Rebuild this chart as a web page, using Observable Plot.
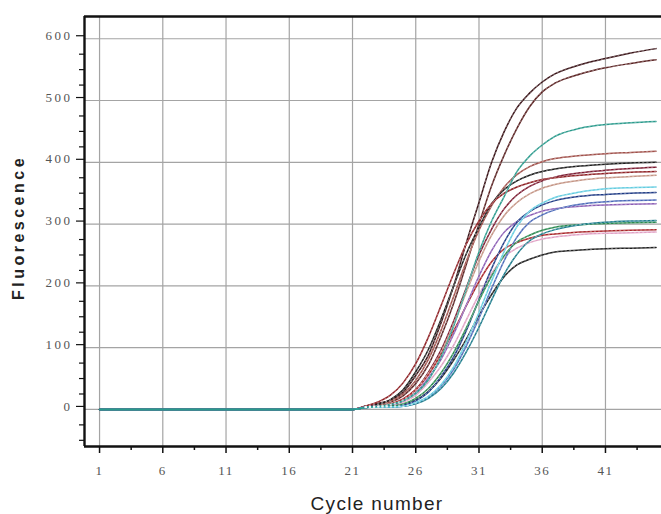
<!DOCTYPE html>
<html><head><meta charset="utf-8">
<script src="https://cdn.jsdelivr.net/npm/d3@7"></script>
<script src="https://cdn.jsdelivr.net/npm/@observablehq/plot@0.6"></script>
<style>body{margin:0;background:#fff} svg{display:block}</style>
</head><body><div id="chart"></div>
<script>
// Cycle numbers at which each amplification curve is read
const cycles = [1, 21, 22, 23, 24, 25, 26, 27, 28, 29, 30, 31, 32, 33, 34, 35, 36, 37, 39, 41, 43, 45];

// Fluorescence readings per well (same order as cycles)
const wellA = [0, 0, 5, 10, 15, 28, 55, 88, 140, 200, 270, 335, 400, 450, 488, 512, 530, 543, 558, 568, 577, 584];
const wellB = [0, 0, 5, 8, 12, 22, 42, 72, 118, 172, 235, 300, 362, 412, 455, 490, 514, 528, 543, 553, 560, 566];
const wellC = [0, 0, 4, 6, 13, 25, 47, 81, 128, 183, 240, 290, 330, 360, 380, 393, 401, 406, 411, 414, 416, 418];
const wellD = [0, 0, 4, 8, 16, 32, 61, 97, 146, 200, 252, 295, 333, 356, 370, 379, 385, 389, 394, 397, 399, 400];
const wellE = [0, 0, 4, 5, 8, 16, 32, 60, 96, 143, 197, 250, 292, 325, 347, 361, 370, 376, 383, 387, 390, 392];
const wellF = [0, 0, 5, 12, 23, 43, 74, 117, 168, 220, 268, 305, 333, 350, 360, 367, 372, 375, 379, 382, 384, 385];
const wellG = [0, 0, 4, 5, 8, 15, 31, 58, 92, 138, 190, 240, 282, 314, 335, 349, 358, 364, 371, 375, 377, 379];
const wellL = [0, 0, 4, 5, 9, 17, 32, 56, 89, 127, 168, 207, 239, 260, 270, 277, 282, 284, 287, 289, 290, 291];
const wellM = [0, 0, 4, 5, 6, 12, 23, 44, 70, 104, 145, 186, 220, 247, 261, 270, 276, 279, 283, 285, 286, 287];
const wellN = [0, 0, 3, 4, 5, 8, 15, 29, 51, 80, 114, 152, 186, 215, 234, 243, 250, 255, 258, 260, 261, 262];
const wellJ = [0, 0, 4, 5, 7, 14, 27, 51, 81, 122, 169, 216, 257, 287, 304, 314, 321, 325, 329, 331, 332, 333];
const wellH = [0, 0, 3, 4, 5, 7, 14, 28, 53, 85, 128, 178, 228, 271, 303, 320, 331, 338, 345, 348, 350, 351];
const wellI = [0, 0, 3, 4, 4, 5, 10, 20, 38, 65, 103, 148, 196, 241, 279, 303, 315, 323, 332, 336, 338, 339];
const wellK = [0, 0, 3, 4, 5, 9, 18, 34, 59, 92, 132, 176, 216, 249, 271, 282, 290, 295, 299, 301, 302, 303];
const wellQ = [0, 0, 3, 4, 4, 5, 9, 18, 34, 59, 93, 133, 177, 219, 251, 273, 284, 291, 299, 303, 305, 306];
const wellO = [0, 0, 3, 4, 4, 5, 11, 21, 40, 69, 110, 157, 208, 256, 296, 321, 334, 343, 352, 357, 359, 360];
const wellT = [0, 0, 3, 5, 8, 14, 26, 48, 85, 135, 195, 255, 305, 345, 385, 410, 428, 442, 455, 461, 464, 466];

const wellNames  = ["A", "B", "C", "D", "E", "F", "G", "L", "M", "N", "J", "H", "I", "K", "Q", "O", "T"];
const wellValues = [wellA, wellB, wellC, wellD, wellE, wellF, wellG, wellL, wellM, wellN, wellJ, wellH, wellI, wellK, wellQ, wellO, wellT];
const wellColors = ["#3a1418", "#5a2222", "#a0504a", "#1c1c1c", "#7a1a30", "#8e2024", "#c49484",
                    "#a82428", "#e0a0c4", "#202020", "#8a5cb4", "#1e3a84", "#4a68b8", "#2a8a50",
                    "#1a7a8a", "#62cce0", "#2a9a8c"];

// Axis ticks
const xTicks = [1, 6, 11, 16, 21, 26, 31, 36, 41];
const xMinorTicks = [3.5, 8.5, 13.5, 18.5, 23.5, 28.5, 33.5, 38.5, 43.5];
const yTicks = [0, 100, 200, 300, 400, 500, 600];
const yMinorTicks = [-50, -25, 25, 50, 75, 125, 150, 175, 225, 250, 275, 325, 350, 375, 425, 450, 475, 525, 550, 575];
const xDomain = [-0.19, 45.43];
const yDomain = [-60, 636];

const rows = wellNames.map((name, i) => cycles.map((c, j) => ({name, cycle: c, value: wellValues[i][j]})));

const font = "'Liberation Serif', 'DejaVu Serif', serif";
const sans = "'Liberation Sans', Arial, sans-serif";

const marks = [
  Plot.ruleX(xTicks, {stroke: "#a4a4a4", strokeWidth: 1.2}),
  Plot.ruleY(yTicks, {stroke: "#a4a4a4", strokeWidth: 1.2}),
  ...rows.map((r, i) => Plot.line(r, {x: "cycle", y: "value", stroke: wellColors[i], strokeWidth: 1.5, curve: "monotone-x"})),
  ...rows.map((r, i) => Plot.line(r.filter(d => d.cycle >= 22), {x: "cycle", y: "value", stroke: "white", strokeWidth: 0.7, strokeOpacity: 0.55, strokeDasharray: "1.2,3", curve: "monotone-x"})),
  Plot.axisX({ticks: xTicks, tickSize: 7, tickPadding: 12, tickFormat: d => String(d), fontSize: 13, fill: "#555", stroke: "#111", strokeWidth: 1.5, label: null}),
  Plot.axisX({ticks: xMinorTicks, tickSize: 4, tickFormat: () => "", stroke: "#111", strokeWidth: 1.5, label: null}),
  Plot.axisY({ticks: yTicks, tickSize: 8, tickPadding: 4, dy: -3, tickFormat: d => String(d), fontSize: 13, fill: "#555", stroke: "#111", strokeWidth: 1.2, label: null}),
  Plot.axisY({ticks: yMinorTicks, tickSize: 5, tickFormat: () => "", stroke: "#111", strokeWidth: 1.2, label: null}),
  Plot.ruleX([xDomain[0]], {stroke: "#111", strokeWidth: 2.4}),
  Plot.ruleY([yDomain[0]], {stroke: "#111", strokeWidth: 2.4}),
  Plot.ruleY([yDomain[1]], {stroke: "#111", strokeWidth: 2.4}),
  Plot.text(["Fluorescence"], {frameAnchor: "left", textAnchor: "middle", lineAnchor: "middle", dx: -66, dy: -4, rotate: -90, fontSize: 16, fontWeight: "bold", fill: "#222", fontFamily: sans}),
  Plot.text(["Cycle number"], {frameAnchor: "bottom", textAnchor: "middle", lineAnchor: "middle", dx: 4, dy: 57, fontSize: 19, fill: "#222", fontFamily: sans})
];

const chart = Plot.plot({
  width: 661,
  height: 514,
  marginLeft: 84,
  marginRight: 0,
  marginTop: 16,
  marginBottom: 68,
  style: {fontFamily: font, background: "white", overflow: "visible"},
  x: {domain: xDomain},
  y: {domain: yDomain},
  marks
});
document.getElementById("chart").appendChild(chart);

const svg = d3.select(chart);
svg.selectAll('g[aria-label="y-axis tick label"] text').attr("letter-spacing", "2.5px");
svg.selectAll('g[aria-label="x-axis tick label"] text').attr("letter-spacing", "1.5px");
svg.selectAll('g[aria-label="text"] text').filter(function(){return this.textContent === "Fluorescence";}).attr("letter-spacing", "3.5px");
svg.selectAll('g[aria-label="text"] text').filter(function(){return this.textContent === "Cycle number";}).attr("letter-spacing", "1.3px");
</script>
</body></html>
